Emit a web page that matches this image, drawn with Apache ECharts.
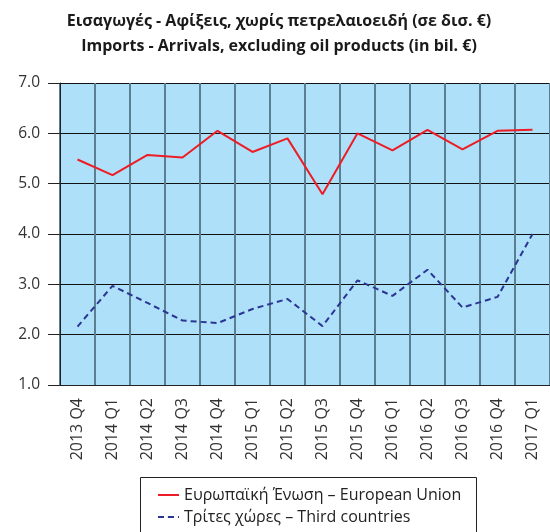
<!DOCTYPE html>
<html>
<head>
<meta charset="utf-8">
<script src="https://cdn.jsdelivr.net/npm/echarts@6/dist/echarts.min.js"></script>
<style>
  html, body { margin: 0; padding: 0; background: #fff; }
  #chart { width: 550px; height: 532px; }
</style>
</head>
<body>
<div id="chart"></div>
<script>
// Quarterly imports (arrivals) excluding oil products, bil. EUR
const quarters = ['2013 Q4', '2014 Q1', '2014 Q2', '2014 Q3', '2014 Q4', '2015 Q1', '2015 Q2',
                  '2015 Q3', '2015 Q4', '2016 Q1', '2016 Q2', '2016 Q3', '2016 Q4', '2017 Q1'];
const euValues    = [5.48, 5.17, 5.57, 5.52, 6.05, 5.63, 5.90, 4.79, 6.00, 5.66, 6.07, 5.68, 6.05, 6.07];
const thirdValues = [2.16, 2.97, 2.63, 2.28, 2.23, 2.51, 2.71, 2.17, 3.08, 2.77, 3.29, 2.54, 2.75, 4.00];
const seriesNames = ['Ευρωπαϊκή Ένωση – European Union', 'Τρίτες χώρες – Third countries'];
const titleLines = ['Εισαγωγές - Αφίξεις, χωρίς πετρελαιοειδή (σε δισ. €)',
                    'Imports - Arrivals, excluding oil products (in bil. €)'];

const FONT = '"Open Sans", "DejaVu Sans", sans-serif';
const chart = echarts.init(document.getElementById('chart'));

chart.setOption({
  animation: false,
  backgroundColor: '#ffffff',
  title: {
    text: titleLines.join('\n'),
    left: 274,
    textAlign: 'center',
    top: 4,
    textStyle: { fontFamily: FONT, fontWeight: 'bold', fontSize: 16, color: '#1a1a1a', lineHeight: 25 }
  },
  grid: {
    left: 60, top: 83, width: 491, height: 302,
    show: true, backgroundColor: '#aee0fa', borderWidth: 0
  },
  legend: {
    orient: 'vertical',
    left: 152, top: 482,
    itemWidth: 21, itemHeight: 2, itemGap: 6,
    textStyle: { fontFamily: FONT, fontSize: 16, color: '#222' },
    data: seriesNames
  },
  graphic: [{
    type: 'rect',
    shape: { x: 140.5, y: 477.5, width: 336, height: 70 },
    style: { fill: 'none', stroke: '#222', lineWidth: 1 },
    silent: true
  }],
  xAxis: {
    type: 'category',
    data: quarters,
    boundaryGap: true,
    axisLine: { lineStyle: { color: '#222', width: 1 } },
    axisTick: { show: false },
    axisLabel: { rotate: 90, margin: 13, interval: 0, fontFamily: FONT, fontSize: 16, color: '#333' },
    splitLine: { show: true, interval: 0, lineStyle: { color: '#5b7f90', width: 2 } }
  },
  yAxis: {
    type: 'value',
    min: 1, max: 7, interval: 1,
    axisLine: { show: true, lineStyle: { color: '#222', width: 1 } },
    axisTick: { show: true, inside: false, length: 12, lineStyle: { color: '#222' } },
    axisLabel: { margin: 20, fontFamily: FONT, fontSize: 15.5, color: '#333',
                 formatter: v => v.toFixed(1) },
    splitLine: { show: true, lineStyle: { color: '#111', width: 1 } }
  },
  series: [
    {
      name: seriesNames[0], type: 'line', data: euValues,
      symbol: 'none', z: 3,
      lineStyle: { color: '#ee1c25', width: 2 },
      itemStyle: { color: '#ee1c25' }
    },
    {
      name: seriesNames[1], type: 'line', data: thirdValues,
      symbol: 'none', z: 3,
      lineStyle: { color: '#2b3593', width: 2, type: [6, 4] },
      itemStyle: { color: '#2b3593' }
    }
  ]
});
</script>
</body>
</html>
